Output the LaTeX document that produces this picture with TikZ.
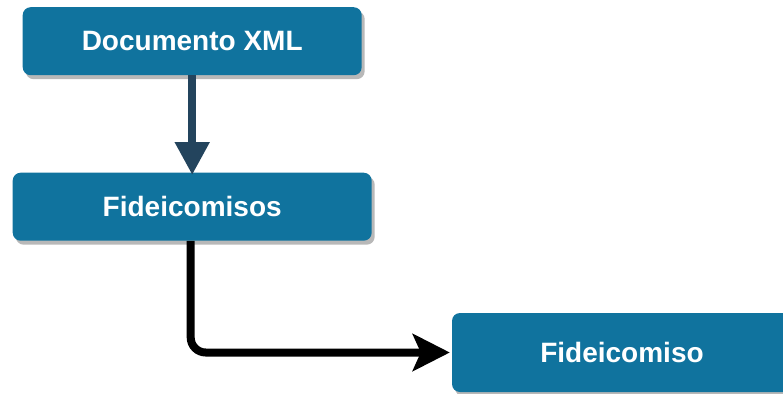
\documentclass[tikz,border=0pt]{standalone}
\usepackage{fontspec}
\setmainfont{Liberation Sans}
\usetikzlibrary{arrows.meta,shadows}
\definecolor{boxblue}{HTML}{10739E}
\definecolor{arrowdark}{HTML}{23445D}
\begin{document}
\begin{tikzpicture}[x=1pt,y=-1pt,
  box/.style={rectangle, rounded corners=8pt, fill=boxblue, text=white,
    font=\fontsize{28}{30}\selectfont\bfseries, inner sep=0pt,
    drop shadow={shadow xshift=3pt, shadow yshift=-4pt, fill=black!28, opacity=1}},
  conn/.style={line width=8pt},
]
\useasboundingbox (0,0) rectangle (783,393);
\clip (0,0) rectangle (783,393);
\node[box, minimum width=339pt, minimum height=68pt] (doc) at (192.2,41.2) {Documento XML};
\node[box, minimum width=359pt, minimum height=68pt] (fs) at (192.2,206.7) {Fideicomisos};
\node[box, minimum width=340pt, minimum height=79pt] (fo) at (622,352.5) {Fideicomiso};
\draw[conn, draw=arrowdark, -{Triangle[length=33pt,width=33pt,fill=arrowdark]}] (doc.south) -- ([yshift=-2.5pt]fs.north);
\draw[conn, draw=black, rounded corners=15pt, -{Stealth[length=37pt,width=37pt,inset=8pt]}] ([xshift=-1.5pt]fs.south) |- ([xshift=-2pt]fo.west);
\end{tikzpicture}
\end{document}
